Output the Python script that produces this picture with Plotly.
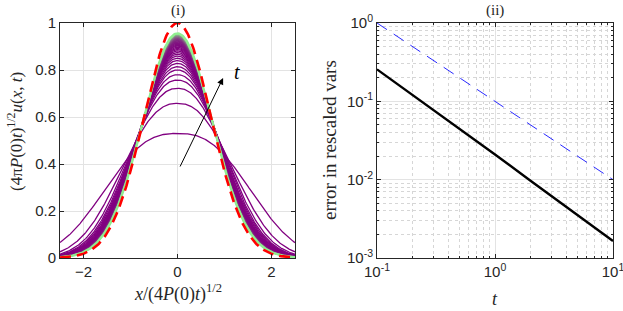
import numpy as np
import plotly.graph_objects as go
from math import gamma, pi, sqrt

# ---------------- data ----------------
# panel (i): peak heights of the rescaled profiles, earliest -> latest time
peak_heights = [0.53, 0.658, 0.722, 0.757, 0.78, 0.80, 0.814, 0.828, 0.84, 0.85,
                0.859, 0.867, 0.874, 0.881, 0.887, 0.892, 0.897, 0.902, 0.906, 0.910,
                0.914, 0.917, 0.920, 0.923, 0.926, 0.929, 0.931, 0.933, 0.935, 0.937,
                0.939, 0.941, 0.943, 0.945, 0.947, 0.949, 0.951, 0.953, 0.955, 0.956]
# shape exponents (flat-topped early profiles -> Gaussian)
shape_exponents = [2.6, 2.35, 2.25, 2.2, 2.16, 2.13, 2.11, 2.10, 2.09, 2.08,
                   2.07, 2.065, 2.06, 2.055, 2.05, 2.045, 2.04, 2.035, 2.03, 2.028,
                   2.025, 2.022, 2.02, 2.018, 2.016, 2.014, 2.012, 2.01, 2.009, 2.008,
                   2.007, 2.006, 2.005, 2.004, 2.003, 2.002, 2.002, 2.001, 2.001, 2.0]
xi_range = [-2.5, 2.5]
left_xticks = [-2, 0, 2]
left_yticks = [0, 0.2, 0.4, 0.6, 0.8, 1]

# panel (ii): error in rescaled variables
t_vals = [0.1, 0.15, 0.2, 0.3, 0.5, 1, 2, 3, 5, 10]
err_vals = [0.256, 0.165, 0.122, 0.078, 0.045, 0.021, 0.0097, 0.0062, 0.0036, 0.00165]
ref_t = [0.1, 10]
ref_vals = [1.0, 0.01]
right_xticks = [0.1, 1, 10]
right_xtext = ["10<sup>-1</sup>", "10<sup>0</sup>", "10<sup>1</sup>"]
right_yticks = [0.001, 0.01, 0.1, 1]
right_ytext = ["10<sup>-3</sup>", "10<sup>-2</sup>", "10<sup>-1</sup>", "10<sup>0</sup>"]

# ---------------- figure ----------------
W, H = 623, 311
fig = go.Figure()

xi = np.linspace(xi_range[0], xi_range[1], 301)
N = len(peak_heights)
purple = np.array([128, 0, 128])
green = np.array([144, 238, 144])
for k, (a, p) in enumerate(zip(peak_heights, shape_exponents)):
    w = sqrt(pi) / (2 * a * gamma(1 + 1 / p))
    y = a * np.exp(-(np.abs(xi) / w) ** p)
    f = (k / (N - 1)) ** 4
    c = purple * (1 - f) + green * f
    col = "rgb(%d,%d,%d)" % tuple(c.astype(int))
    fig.add_trace(go.Scatter(x=xi, y=y, mode="lines",
                             line=dict(color=col, width=2.4 if k == N - 1 else 1.3),
                             xaxis="x", yaxis="y", showlegend=False, hoverinfo="skip"))

fig.add_trace(go.Scatter(x=xi, y=np.exp(-xi ** 2), mode="lines",
                         line=dict(color="rgb(255,0,0)", width=2.6, dash="11px,6px"),
                         xaxis="x", yaxis="y", showlegend=False))

fig.add_trace(go.Scatter(x=t_vals, y=err_vals, mode="lines",
                         line=dict(color="black", width=2.4),
                         xaxis="x2", yaxis="y2", showlegend=False))
fig.add_trace(go.Scatter(x=ref_t, y=ref_vals, mode="lines",
                         line=dict(color="rgb(40,40,255)", width=1, dash="12px,8px"),
                         xaxis="x2", yaxis="y2", showlegend=False))

tickfont = dict(family="Liberation Sans, Arial, sans-serif", size=15, color="#262626")
axcommon = dict(showline=True, linecolor="#262626", linewidth=1, mirror="ticks",
                ticks="inside", ticklen=4, tickcolor="#262626", tickfont=tickfont,
                zeroline=False, automargin=False, ticklabeloverflow="allow")

minor = dict(dtick="D1", showgrid=True, gridcolor="#d6d6d6", griddash="dot",
             gridwidth=1, ticks="inside", ticklen=2, tickcolor="#262626")

y_dom = [(H - 258) / H, (H - 23) / H]
fig.update_layout(
    width=W, height=H, margin=dict(l=0, r=0, t=0, b=0),
    paper_bgcolor="white", plot_bgcolor="white",
    xaxis=dict(domain=[60 / W, 295 / W], range=xi_range, tickvals=left_xticks,
               showgrid=True, gridcolor="#e3e3e3", anchor="y", **axcommon),
    yaxis=dict(domain=y_dom, range=[0, 1], tickvals=left_yticks,
               showgrid=True, gridcolor="#e3e3e3", anchor="x", **axcommon),
    xaxis2=dict(domain=[377 / W, 613 / W], type="log", range=[-1, 1],
                tickvals=right_xticks, ticktext=right_xtext,
                showgrid=True, gridcolor="#e3e3e3", anchor="y2", minor=minor,
                **axcommon),
    yaxis2=dict(domain=y_dom, type="log", range=[-3, 0],
                tickvals=right_yticks, ticktext=right_ytext,
                showgrid=True, gridcolor="#e3e3e3", anchor="x2", minor=minor,
                **axcommon),
)

serif = "Liberation Serif, Times New Roman, serif"
def label(text, x, y, size, angle=0, color="#262626"):
    return dict(text=text, x=x / W, y=1 - y / H, xref="paper", yref="paper",
                xanchor="center", yanchor="middle", textangle=angle,
                showarrow=False, font=dict(family=serif, size=size, color=color))

ann = [
    label("(i)", 178, 10, 15),
    label("(ii)", 495, 10, 15),
    label("<i>x</i>/(4<i>P</i>(0)<i>t</i>)<sup>1/2</sup>", 178, 293, 18),
    label("<i>t</i>", 495, 299, 18),
    label("(4\u03c0<i>P</i>(0)<i>t</i>)<sup>1/2</sup><i>u</i>(<i>x</i>, <i>t</i>)", 15, 132, 17, -90),
    label("error in rescaled vars", 330, 140, 19, -90),
]
# arrow indicating increasing t
ann.append(dict(x=0.97, y=0.766, ax=0.04, ay=0.383, xref="x", yref="y",
                axref="x", ayref="y", text="", showarrow=True,
                arrowhead=2, arrowsize=1.3, arrowwidth=1, arrowcolor="black"))
ann.append(dict(text="<i>t</i>", x=1.27, y=0.79, xref="x", yref="y", showarrow=False,
                xanchor="center", yanchor="middle",
                font=dict(family=serif, size=20, color="black")))
fig.update_layout(annotations=ann)

fig.write_html("out.html", config={"displayModeBar": False})

# remove the default page margin so the figure sits at the window origin
with open("out.html", "r", encoding="utf-8") as fh:
    html = fh.read()
html = html.replace("<head>", "<head><style>html,body{margin:0;padding:0;overflow:hidden;}</style>", 1)
with open("out.html", "w", encoding="utf-8") as fh:
    fh.write(html)
